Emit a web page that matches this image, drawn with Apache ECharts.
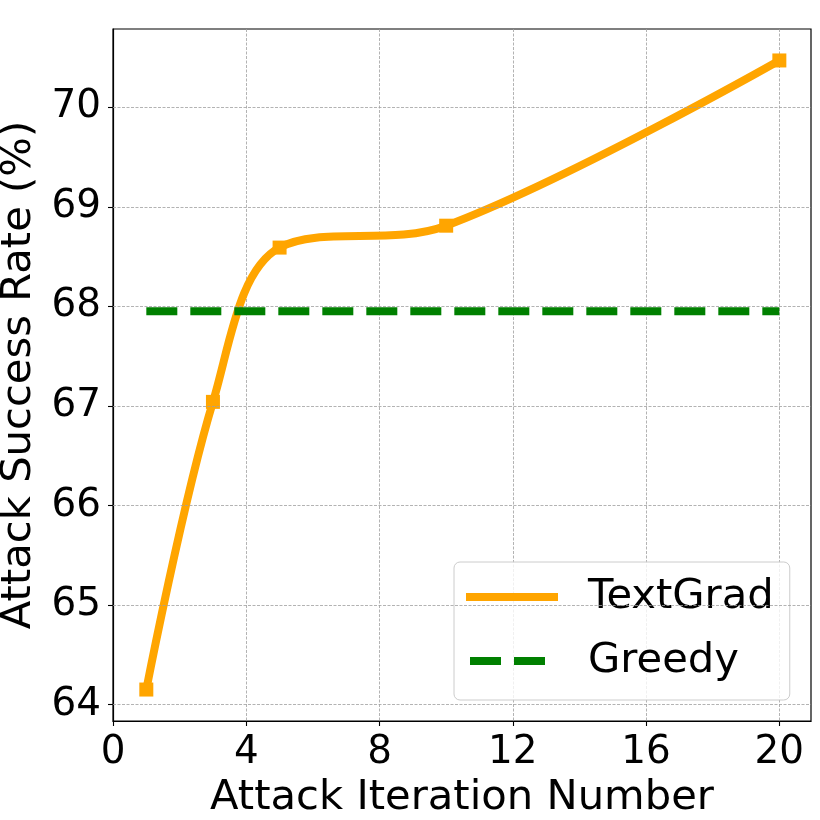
<!DOCTYPE html>
<html>
<head>
<meta charset="utf-8">
<script src="https://cdn.jsdelivr.net/npm/echarts@6/dist/echarts.min.js"></script>
<style>
html,body{margin:0;padding:0;background:#fff;}
#chart{width:820px;height:820px;}
</style>
</head>
<body>
<div id="chart"></div>
<script>
const iterations = [1, 3, 5, 10, 20];
const textGradRate = [64.15, 67.04, 68.59, 68.81, 70.47];
const greedyRate = [67.95, 67.95, 67.95, 67.95, 67.95];
const xTickLabels = [0, 4, 8, 12, 16, 20];
const yTickLabels = [64, 65, 66, 67, 68, 69, 70];

const FONT = 'DejaVu Sans';
const chart = echarts.init(document.getElementById('chart'), null, {renderer: 'canvas'});

const pair = (xs, ys) => xs.map((x, i) => [x, ys[i]]);

chart.setOption({
  animation: false,
  backgroundColor: '#ffffff',
  grid: {
    left: 113, right: 9, top: 29, bottom: 99,
    containLabel: false,
    outerBoundsMode: 'none',
    show: true, borderColor: '#000', borderWidth: 1.2, backgroundColor: 'transparent'
  },
  xAxis: {
    type: 'value',
    min: 0, max: 20.95, interval: 4,
    name: 'Attack Iteration Number',
    nameLocation: 'middle',
    nameGap: 52,
    nameTextStyle: {fontFamily: FONT, fontSize: 41.7, color: '#000'},
    axisLine: {show: true, onZero: false, lineStyle: {color: '#000', width: 1.2}},
    axisTick: {show: true, length: 5, lineStyle: {color: '#000', width: 1.1}, customValues: xTickLabels},
    axisLabel: {fontFamily: FONT, fontSize: 38.9, color: '#000', margin: 12, customValues: xTickLabels,
      formatter: v => String(v)},
    splitLine: {show: true, lineStyle: {color: '#a0a0a0', width: 0.8, type: [3, 1.5]}}
  },
  yAxis: {
    type: 'value',
    min: 63.834, max: 70.786, interval: 1,
    name: 'Attack Success Rate (%)',
    nameLocation: 'middle',
    nameGap: 72,
    nameRotate: 90,
    nameTextStyle: {fontFamily: FONT, fontSize: 41.7, color: '#000'},
    axisLine: {show: true, onZero: false, lineStyle: {color: '#000', width: 1.2}},
    axisTick: {show: true, length: 5, lineStyle: {color: '#000', width: 1.1}, customValues: yTickLabels},
    axisLabel: {fontFamily: FONT, fontSize: 38.9, color: '#000', margin: 12, customValues: yTickLabels,
      formatter: v => String(v)},
    splitLine: {show: false}
  },
  legend: {
    orient: 'vertical',
    left: 454, top: 562,
    padding: [12, 16, 16, 12],
    itemGap: 18,
    itemWidth: 117, itemHeight: 8,
    backgroundColor: 'rgba(255,255,255,0.8)',
    borderColor: '#cccccc', borderWidth: 1, borderRadius: 6,
    textStyle: {fontFamily: FONT, fontSize: 41.7, color: '#000', lineHeight: 46},
    data: [
      {name: 'TextGrad', icon: 'path://M0,0M117,8M0,0H92V8H0Z'},
      {name: 'Greedy', icon: 'path://M0,0M117,8M4,0H35V8H4ZM48,0H79V8H48Z'}
    ]
  },
  series: [
    {
      name: 'TextGrad',
      type: 'line',
      data: pair(iterations, textGradRate),
      smooth: 0.35,
      symbol: 'rect',
      symbolSize: 14,
      lineStyle: {color: '#FFA500', width: 8},
      itemStyle: {color: '#FFA500'},
      z: 3
    },
    {
      name: 'Greedy',
      type: 'line',
      data: pair(iterations, greedyRate),
      symbol: 'none',
      lineStyle: {color: '#008000', width: 8, type: [31, 13], cap: 'butt'},
      itemStyle: {color: '#008000'},
      z: 4
    },
    {
      name: 'ygrid',
      type: 'line',
      data: [],
      markLine: {
        silent: true, symbol: 'none', label: {show: false},
        lineStyle: {color: '#a0a0a0', width: 0.8, type: [3, 1.5]},
        data: yTickLabels.map(v => ({yAxis: v}))
      },
      z: 1
    }
  ]
});
</script>
</body>
</html>
